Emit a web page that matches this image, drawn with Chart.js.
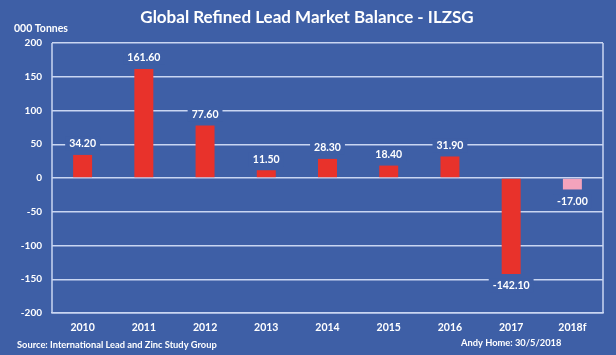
<!DOCTYPE html>
<html>
<head>
<meta charset="utf-8">
<script src="https://cdn.jsdelivr.net/npm/chart.js@4/dist/chart.umd.min.js"></script>
<style>
html,body{margin:0;padding:0;background:#3E5FA6;}
#wrap{width:616px;height:355px;position:relative;}
</style>
</head>
<body>
<div id="wrap"><canvas id="c" width="616" height="355"></canvas></div>
<script>
const categories = ["2010","2011","2012","2013","2014","2015","2016","2017","2018f"];
const balance = [34.20, 161.60, 77.60, 11.50, 28.30, 18.40, 31.90, -142.10, -17.00];
const barColors = ["#E8322B","#E8322B","#E8322B","#E8322B","#E8322B","#E8322B","#E8322B","#E8322B","#F4A3BC"];
const yTicks = [-200,-150,-100,-50,0,50,100,150,200];

const BG = "#3E5FA6";
const GRID = "#C9D6F2";
const FONT = "Lato, 'Open Sans', sans-serif";

const decor = {
  id: "decor",
  beforeDraw(chart) {
    const ctx = chart.ctx;
    ctx.save();
    ctx.fillStyle = BG;
    ctx.fillRect(0, 0, chart.width, chart.height);
    ctx.restore();
  },
  afterDraw(chart) {
    const ctx = chart.ctx;
    const a = chart.chartArea;
    ctx.save();
    ctx.strokeStyle = GRID;
    ctx.lineWidth = 1.5;
    ctx.beginPath();
    ctx.moveTo(a.left, a.top); ctx.lineTo(a.left, a.bottom);
    ctx.moveTo(a.right, a.top); ctx.lineTo(a.right, a.bottom);
    ctx.stroke();
    // value labels
    const meta = chart.getDatasetMeta(0);
    ctx.font = "bold 10.5px " + FONT;
    ctx.textAlign = "center";
    ctx.textBaseline = "middle";
    meta.data.forEach((bar, i) => {
      const v = balance[i];
      const txt = v.toFixed(2);
      const y = v >= 0 ? bar.y - 11 : bar.y + 12;
      const w = ctx.measureText(txt).width + 8;
      ctx.fillStyle = BG;
      ctx.fillRect(bar.x - w / 2, y - 7, w, 14);
      ctx.fillStyle = "#FFFFFF";
      ctx.fillText(txt, bar.x, y);
    });
    // title and texts
    ctx.fillStyle = "#FFFFFF";
    ctx.font = "bold 17px " + FONT;
    ctx.textAlign = "center";
    ctx.fillText("Global Refined Lead Market Balance - ILZSG", 307, 18);
    ctx.font = "bold 10.5px " + FONT;
    ctx.textAlign = "left";
    ctx.fillText("000 Tonnes", 14, 29);
    ctx.font = "bold 9.3px " + FONT;
    ctx.fillText("Source: International Lead and Zinc Study Group", 17, 345);
    ctx.fillText("Andy Home: 30/5/2018", 461, 343);
    ctx.restore();
  }
};

new Chart(document.getElementById("c"), {
  type: "bar",
  data: {
    labels: categories,
    datasets: [{
      data: balance,
      backgroundColor: barColors,
      borderWidth: 0,
      barPercentage: 0.62,
      categoryPercentage: 0.5
    }]
  },
  options: {
    responsive: false,
    animation: false,
    devicePixelRatio: 1,
    layout: { padding: { top: 43, right: 13, left: 0, bottom: 0 } },
    plugins: { legend: { display: false }, tooltip: { enabled: false } },
    scales: {
      x: {
        grid: { display: false, drawTicks: false },
        border: { display: true, color: GRID, width: 1.5 },
        ticks: { color: "#FFFFFF", font: { family: FONT, weight: "bold", size: 10.5 }, padding: 8 },
        afterFit(s) { s.height = 42; }
      },
      y: {
        min: -200, max: 200,
        afterBuildTicks(s) { s.ticks = yTicks.map(v => ({ value: v })); },
        grid: { color: GRID, lineWidth: 1.5, drawTicks: false },
        border: { display: false },
        ticks: { color: "#FFFFFF", font: { family: FONT, weight: "bold", size: 10 }, padding: 10 },
        afterFit(s) { s.width = 52; }
      }
    }
  },
  plugins: [decor]
});
</script>
</body>
</html>
